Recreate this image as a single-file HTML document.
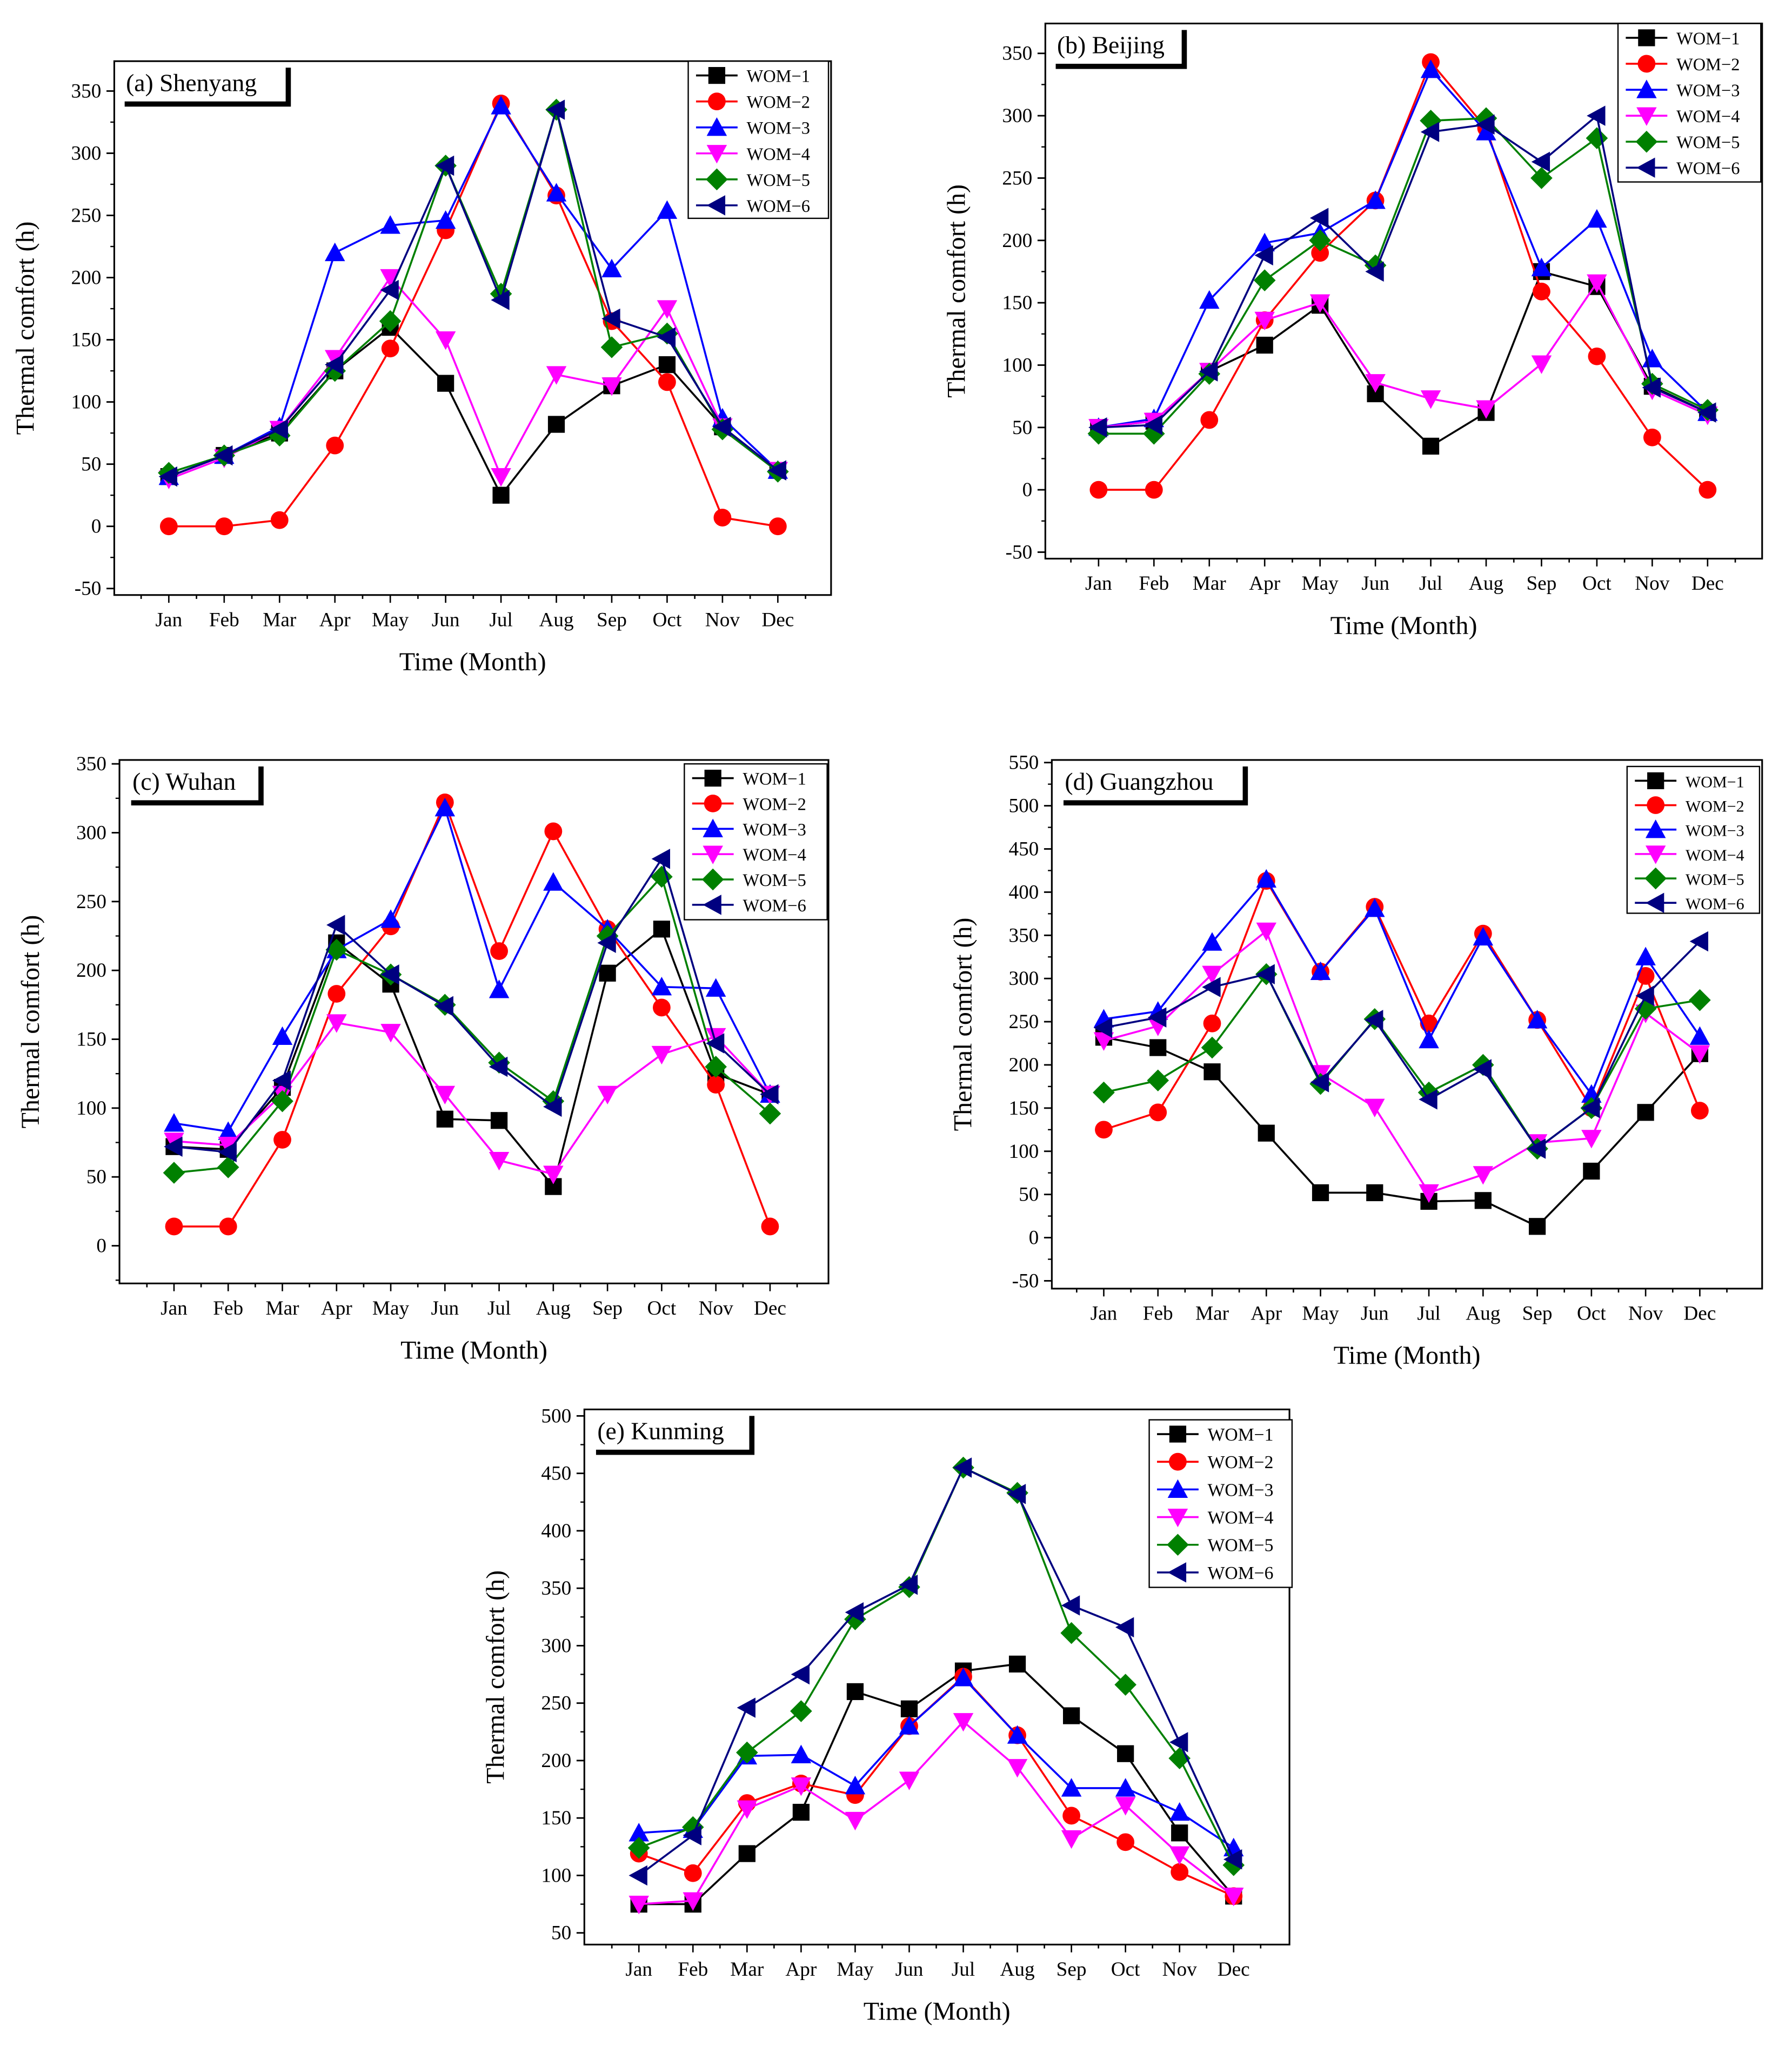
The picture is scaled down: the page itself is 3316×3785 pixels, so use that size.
<!DOCTYPE html>
<html><head><meta charset="utf-8"><style>
html,body{margin:0;padding:0;background:#fff}
svg{display:block}
text{font-family:"Liberation Serif",serif;fill:#000}
</style></head><body>
<svg id="chart" width="3316" height="3785" viewBox="0 0 1380 1575" xmlns="http://www.w3.org/2000/svg"></svg>
<script>
const months=["Jan","Feb","Mar","Apr","May","Jun","Jul","Aug","Sep","Oct","Nov","Dec"];
const seriesNames=["WOM−1","WOM−2","WOM−3","WOM−4","WOM−5","WOM−6"];
const colors=["#000000","#ff0000","#0000ff","#ff00ff","#008000","#000080"];
const shapes=["square","circle","triUp","triDown","diamond","triLeft"];
// (a) Shenyang
const shenyang1=[40,57,75,125,160,115,25,82,113,130,80,45];
const shenyang2=[0,0,5,65,143,238,340,266,165,116,7,0];
const shenyang3=[40,57,80,220,242,246,338,268,207,254,87,45];
const shenyang4=[38,55,78,135,200,150,40,122,113,175,80,45];
const shenyang5=[43,57,73,125,165,290,187,335,144,155,78,44];
const shenyang6=[40,57,78,130,190,290,182,335,167,152,80,45];
// (b) Beijing
const beijing1=[50,55,95,116,148,77,35,62,175,163,83,62];
const beijing2=[0,0,56,136,190,232,343,290,159,107,42,0];
const beijing3=[50,57,152,198,206,232,337,287,178,217,105,62];
const beijing4=[50,55,95,136,150,86,73,65,101,166,80,60];
const beijing5=[45,45,93,168,200,180,296,298,250,282,85,64];
const beijing6=[50,52,95,188,218,175,287,293,263,300,82,62];
// (c) Wuhan
const wuhan1=[72,70,115,220,190,92,91,43,198,230,125,110];
const wuhan2=[14,14,77,183,232,322,214,301,230,173,117,14];
const wuhan3=[89,83,152,215,237,318,186,264,230,188,187,110];
const wuhan4=[76,73,110,162,155,110,62,52,110,139,152,110];
const wuhan5=[53,57,105,215,197,175,133,105,225,268,130,96];
const wuhan6=[72,68,120,233,197,174,130,101,220,281,147,110];
// (d) Guangzhou
const guangzhou1=[232,220,192,121,52,52,42,43,13,77,145,213];
const guangzhou2=[125,145,248,413,308,383,248,352,252,150,303,147];
const guangzhou3=[253,262,342,415,308,381,229,348,252,166,325,233];
const guangzhou4=[228,245,305,355,190,151,52,73,110,115,260,213];
const guangzhou5=[168,182,220,305,178,253,168,200,103,150,265,275];
const guangzhou6=[243,255,290,305,180,252,160,195,103,150,280,343];
// (e) Kunming
const kunming1=[75,75,119,155,260,245,278,284,239,206,137,82];
const kunming2=[119,102,163,180,170,230,273,222,152,129,103,82];
const kunming3=[137,140,204,205,178,230,272,222,176,176,155,124];
const kunming4=[75,78,158,178,148,183,234,194,132,161,118,82];
const kunming5=[124,142,207,243,323,351,455,433,311,266,202,109];
const kunming6=[100,135,246,275,329,353,455,432,335,316,216,114];
// y tick ranges
const ticksA=[-50,0,50,100,150,200,250,300,350];
const ticksC=[0,50,100,150,200,250,300,350];
const ticksD=[-50,0,50,100,150,200,250,300,350,400,450,500,550];
const ticksE=[50,100,150,200,250,300,350,400,450,500];

const NS="http://www.w3.org/2000/svg";
const svg=document.getElementById('chart');
function mk(tag,attrs,parent){const e=document.createElementNS(NS,tag);for(const k in attrs)e.setAttribute(k,attrs[k]);(parent||svg).appendChild(e);return e;}

function marker(g,shape,x,y,c,s){
  let e;
  if(shape==="square")e=mk('rect',{x:x-s,y:y-s,width:2*s,height:2*s,fill:c},g);
  else if(shape==="circle")e=mk('circle',{cx:x,cy:y,r:s*1.05,fill:c},g);
  else if(shape==="triUp")e=mk('polygon',{points:`${x},${y-s*1.2} ${x-s*1.2},${y+s} ${x+s*1.2},${y+s}`,fill:c},g);
  else if(shape==="triDown")e=mk('polygon',{points:`${x},${y+s*1.2} ${x-s*1.2},${y-s} ${x+s*1.2},${y-s}`,fill:c},g);
  else if(shape==="diamond")e=mk('polygon',{points:`${x},${y-s*1.3} ${x+s*1.3},${y} ${x},${y+s*1.3} ${x-s*1.3},${y}`,fill:c},g);
  else e=mk('polygon',{points:`${x-s*1.2},${y} ${x+s},${y-s*1.2} ${x+s},${y+s*1.2}`,fill:c},g);
  return e;
}

function panel(p){
  const g=mk('g',{});
  
  
  const Y=v=>p.y0+(v-p.v0)*(p.y1-p.y0)/(p.v1-p.v0);
  const X=i=>p.xJan+i*(p.xDec-p.xJan)/11;
  const fr=mk('rect',{x:p.L,y:p.T,width:p.R-p.L,height:p.B-p.T,fill:'none',stroke:'#000','stroke-width':1.3},g);
  
  
  p.ticks.forEach((v,k)=>{
    const y=Y(v);
    if(y>p.B||y<p.T)return;
    mk('line',{x1:p.L-6,x2:p.L,y1:y,y2:y,stroke:'#000','stroke-width':1.2},g);
    const ym=Y(v+25);if(ym>p.T&&ym<p.B)mk('line',{x1:p.L-3,x2:p.L,y1:ym,y2:ym,stroke:'#000','stroke-width':1},g);
    const yb=Y(v-25);if(k===0&&yb<p.B)mk('line',{x1:p.L-3,x2:p.L,y1:yb,y2:yb,stroke:'#000','stroke-width':1},g);
    const t=mk('text',{x:p.L-10,y:y+5,'font-size':15.5,'text-anchor':'end'},g);
    t.textContent=v;
    
    
  });
  for(let i=-0.5;i<=11.5;i+=0.5){
    const x=X(i);if(x<p.L||x>p.R)continue;
    const major=Number.isInteger(i);
    mk('line',{x1:x,x2:x,y1:p.B,y2:p.B+(major?6:3),stroke:'#000','stroke-width':1.1},g);
  }
  months.forEach((m,i)=>{
    const t=mk('text',{x:X(i),y:p.B+24,'font-size':15.5,'text-anchor':'middle'},g);
    t.textContent=m;
    
    
  });
  const xt=mk('text',{x:(p.L+p.R)/2,y:p.B+58,'font-size':20,'text-anchor':'middle'},g);
  xt.textContent="Time (Month)";
  
  
  const yx=p.L-62, yy=(p.T+p.B)/2;
  const yt=mk('text',{x:yx,y:yy,'font-size':20,'text-anchor':'middle',transform:`rotate(-90 ${yx} ${yy})`},g);
  yt.textContent="Thermal comfort (h)";
  
  
  p.data.forEach((d,s)=>{
    const sg=mk('g',{},g);
    
    
    mk('polyline',{points:d.map((v,i)=>X(i)+','+Y(v)).join(' '),fill:'none',stroke:colors[s],'stroke-width':1.5},sg);
    d.forEach((v,i)=>{
      const m=marker(sg,shapes[s],X(i),Y(v),colors[s],6.5);
      
      
    });
  });
  const tg=mk('g',{},g);
  
  
  mk('rect',{x:p.tx+4,y:p.T+5,width:p.tw,height:30,fill:'#000'},tg);
  mk('rect',{x:p.tx,y:p.T+1,width:p.tw,height:30,fill:'#fff'},tg);
  const tt=mk('text',{x:p.tx+5,y:p.T+23,'font-size':19},tg);
  tt.textContent=p.title;
  const lg=mk('g',{},g);
  
  
  mk('rect',{x:p.lx,y:p.ly,width:p.lw,height:p.lh,fill:'#fff',stroke:'#000','stroke-width':1},lg);
  seriesNames.forEach((n,s)=>{
    const y=p.ly+11+s*p.lsp;
    const eg=mk('g',{},lg);
    
    
    mk('line',{x1:p.lx+6,x2:p.lx+38,y1:y,y2:y,stroke:colors[s],'stroke-width':1.5},eg);
    marker(eg,shapes[s],p.lx+22,y,colors[s],6.5);
    const t=mk('text',{x:p.lx+45,y:y+5,'font-size':p.lfs},eg);
    t.textContent=n;
  });
}

panel({id:'shenyang',title:'(a) Shenyang',L:88,R:640,T:47,B:458,v0:350,y0:70,v1:-50,y1:453,xJan:130,xDec:599,ticks:ticksA,
  data:[shenyang1,shenyang2,shenyang3,shenyang4,shenyang5,shenyang6],tx:92,tw:128,lx:530,ly:47,lw:108,lh:121,lsp:20,lfs:13.5});
panel({id:'beijing',title:'(b) Beijing',L:805,R:1357,T:18,B:430,v0:350,y0:41,v1:-50,y1:425,xJan:846,xDec:1315,ticks:ticksA,
  data:[beijing1,beijing2,beijing3,beijing4,beijing5,beijing6],tx:809,tw:101,lx:1246,ly:18,lw:110,lh:122,lsp:20,lfs:13.5});
panel({id:'wuhan',title:'(c) Wuhan',L:92,R:638,T:585,B:988,v0:350,y0:588,v1:0,y1:959,xJan:134,xDec:593,ticks:ticksC,
  data:[wuhan1,wuhan2,wuhan3,wuhan4,wuhan5,wuhan6],tx:97,tw:102,lx:527,ly:588,lw:110,lh:120,lsp:19.5,lfs:13.5});
panel({id:'guangzhou',title:'(d) Guangzhou',L:810,R:1357,T:585,B:992,v0:550,y0:587,v1:-50,y1:986,xJan:850,xDec:1309,ticks:ticksD,
  data:[guangzhou1,guangzhou2,guangzhou3,guangzhou4,guangzhou5,guangzhou6],tx:815,tw:142,lx:1253,ly:590,lw:102,lh:113,lsp:18.8,lfs:12.5});
panel({id:'kunming',title:'(e) Kunming',L:450,R:993,T:1085,B:1497,v0:500,y0:1090,v1:50,y1:1488,xJan:492,xDec:950,ticks:ticksE,
  data:[kunming1,kunming2,kunming3,kunming4,kunming5,kunming6],tx:455,tw:122,lx:885,ly:1093,lw:110,lh:129,lsp:21.3,lfs:14});
</script>
</body></html>
